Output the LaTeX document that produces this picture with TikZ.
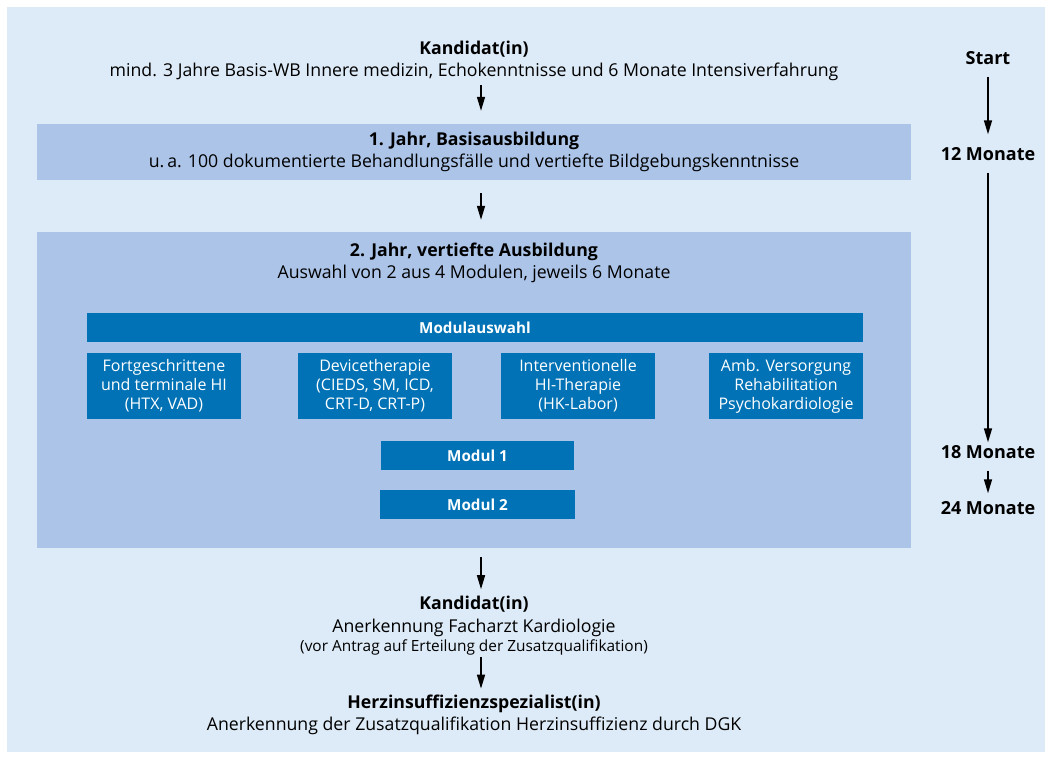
\documentclass[tikz,border=0pt]{standalone}
\usepackage{fontspec}
\setmainfont{Open Sans}
\usetikzlibrary{arrows.meta}
\definecolor{bgblue}{RGB}{221,234,247}
\definecolor{boxblue}{RGB}{171,196,232}
\definecolor{modblue}{RGB}{0,114,181}
\tikzset{
  txt/.style={align=center,inner sep=0pt,font=\fontsize{17.7}{22.5}\selectfont},
  jahrbox/.style={fill=boxblue,inner sep=0pt,minimum width=874pt,align=center,font=\fontsize{17.7}{22}\selectfont},
  modbox/.style={fill=modblue,text=white,inner sep=0pt,align=center,font=\fontsize{16}{19}\selectfont},
  modbar/.style={modbox,font=\fontsize{15.2}{19}\selectfont\bfseries,minimum height=29pt},
  zeit/.style={inner sep=0pt,text height=13pt,text depth=0pt,font=\fontsize{18}{20}\selectfont\bfseries},
  arr/.style={-{Triangle[width=8pt,length=14pt]},line width=1.5pt}
}
\begin{document}
\begin{tikzpicture}[x=1pt,y=-1pt]
  \fill[white] (0,0) rectangle (1052,759);
  \fill[bgblue] (7,7) rectangle (1045,752);
  % Eingangsvoraussetzung
  \node[txt] (kand) at (474,61) {\textbf{Kandidat(in)}\\mind. 3 Jahre Basis-WB Innere medizin, Echokenntnisse und 6 Monate Intensiverfahrung};
  \node[jahrbox,minimum height=56pt] (jahr1) at (474,152) {\textbf{1. Jahr, Basisausbildung}\\u.\,a. 100 dokumentierte Behandlungsfälle und vertiefte Bildgebungskenntnisse};
  \node[jahrbox,minimum height=316pt] (jahr2) at (474,390) {};
  \node[txt] (jahr2t) at (474,263) {\textbf{2. Jahr, vertiefte Ausbildung}\\Auswahl von 2 aus 4 Modulen, jeweils 6 Monate};
  % Module
  \node[modbar,minimum width=776pt] (wahl) at (475,327.5) {Modulauswahl};
  \node[modbox,minimum width=154pt,minimum height=66pt] (modA) at (164,386) {Fortgeschrittene\\und terminale HI\\(HTX, VAD)};
  \node[modbox,minimum width=154pt,minimum height=66pt] (modB) at (375,386) {Devicetherapie\\(CIEDS, SM, ICD,\\CRT-D, CRT-P)};
  \node[modbox,minimum width=154pt,minimum height=66pt] (modC) at (578,386) {Interventionelle\\HI-Therapie\\(HK-Labor)};
  \node[modbox,minimum width=154pt,minimum height=66pt] (modD) at (786,386) {Amb. Versorgung\\Rehabilitation\\Psychokardiologie};
  \node[modbar,minimum width=193pt] (mod1) at (477.5,455.5) {Modul 1};
  \node[modbar,minimum width=195pt] (mod2) at (477.5,504.5) {Modul 2};
  % Abschluss
  \node[txt] (fach) at (474,626) {\textbf{Kandidat(in)}\\Anerkennung Facharzt Kardiologie\\[-3pt]{\fontsize{15.4}{20}\selectfont(vor Antrag auf Erteilung der Zusatzqualifikation)}};
  \node[txt] (spez) at (474,715) {\textbf{Herzinsuffizienzspezialist(in)}\\Anerkennung der Zusatzqualifikation Herzinsuffizienz durch DGK};
  \draw[arr,shorten <=4pt,shorten >=13pt] ([xshift=7pt]kand.south) -- ([xshift=7pt]jahr1.north);
  \draw[arr,shorten <=13pt,shorten >=12pt] ([xshift=7pt]jahr1.south) -- ([xshift=7pt]jahr2.north);
  \draw[arr,shorten <=9pt,shorten >=7pt] ([xshift=7pt]jahr2.south) -- ([xshift=7pt]fach.north);
  \draw[arr,shorten <=1pt,shorten >=6pt] ([xshift=7pt]fach.south) -- ([xshift=7pt]spez.north);
  % Zeitachse
  \node[zeit] (tStart) at (988,58) {Start};
  \node[zeit] (t12) at (988,154) {12 Monate};
  \node[zeit] (t18) at (988,452) {18 Monate};
  \node[zeit] (t24) at (988,508) {24 Monate};
  \draw[arr,shorten <=12pt,shorten >=13pt] (tStart) -- (t12);
  \draw[arr,shorten <=12pt,shorten >=3pt] (t12) -- (t18);
  \draw[arr,shorten <=12pt,shorten >=8pt] (t18) -- (t24);
\end{tikzpicture}
\end{document}
